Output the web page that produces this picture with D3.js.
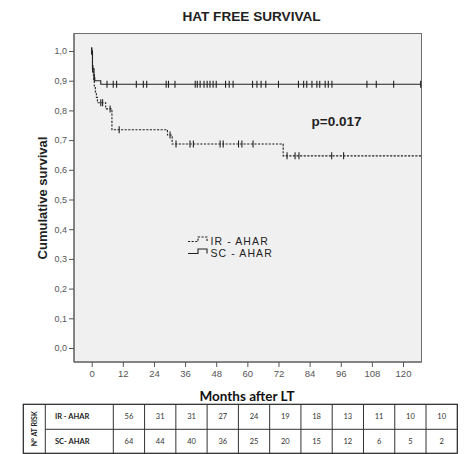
<!DOCTYPE html>
<html>
<head>
<meta charset="utf-8">
<script src="https://cdn.jsdelivr.net/npm/d3@7"></script>
<style>
  body { margin: 0; background: #fff; }
  svg { display: block; }
</style>
</head>
<body>
<div id="content"></div>
<script>
// ---- data ----
const monthTicks = [0, 12, 24, 36, 48, 60, 72, 84, 96, 108, 120];
const survivalTicks = [0, 0.1, 0.2, 0.3, 0.4, 0.5, 0.6, 0.7, 0.8, 0.9, 1.0];
const groupNames = ["IR - AHAR", "SC - AHAR"];
const riskRowNames = ["IR - AHAR", "SC- AHAR"];
const irAtRisk = [56, 31, 31, 27, 24, 19, 18, 13, 11, 10, 10];
const scAtRisk = [64, 44, 40, 36, 25, 20, 15, 12, 6, 5, 2];

// [month, survival] after each drop
const irSteps = [[0, 1], [0.3, 0.94], [0.6, 0.92], [0.8, 0.9], [1.0, 0.88], [1.4, 0.862],
  [1.8, 0.844], [2.2, 0.826], [5.4, 0.805], [7.8, 0.735], [29.2, 0.717], [31.0, 0.687],
  [73.8, 0.647]];
const irCensored = [0, 0.4, 3.5, 4.2, 7.1, 10.6, 30.2, 32.5, 37.9, 39.2, 49.5, 50.7, 56.6,
  57.9, 62.2, 75.3, 78.4, 79.9, 92.5, 97.1];
const scSteps = [[0, 1], [0.3, 0.94], [0.9, 0.91], [1.2, 0.9], [3.5, 0.888]];
const scCensored = [0, 0.4, 1.0, 5.9, 8.3, 9.6, 17.2, 19.9, 21.2, 28.7, 29.6, 32.1, 39.9,
  40.7, 41.8, 43.3, 44.5, 45.6, 46.8, 48.0, 51.6, 53.0, 54.5, 62.0, 63.7, 65.3, 67.1, 72.0,
  79.7, 81.7, 82.9, 84.9, 86.8, 87.9, 90.0, 91.2, 92.6, 106.1, 109.7, 116.4, 126.8];
const followUpEnd = 127;

// ---- layout ----
const width = 470, height = 454;
const svg = d3.select("#content").append("svg")
  .attr("width", width).attr("height", height);

const frame = {left: 74, right: 421.5, top: 33.5, bottom: 362};
const x = d3.scaleLinear().domain([0, 120]).range([91.7, 403]);
const y = d3.scaleLinear().domain([0, 1]).range([348, 51]);
const fmt = d3.formatLocale({decimal: ",", thousands: ".", grouping: [3], currency: ["", ""]}).format(".1f");

// title
svg.append("text")
  .attr("x", 251.5).attr("y", 20.5)
  .attr("text-anchor", "middle")
  .style("font-family", "Liberation Sans, Arial, sans-serif")
  .style("font-weight", "bold").style("font-size", "13.6px")
  .attr("fill", "#222")
  .text("HAT FREE SURVIVAL");

// plot background + frame
svg.append("rect")
  .attr("x", frame.left).attr("y", frame.top)
  .attr("width", frame.right - frame.left).attr("height", frame.bottom - frame.top)
  .attr("fill", "#f0f0f0").attr("stroke", "#6e6e6e").attr("stroke-width", 1);

// y axis
let yAxis = svg.append("g")
  .attr("transform", `translate(${frame.left},0)`)
  .call(d3.axisLeft(y).tickValues(survivalTicks).tickFormat(fmt).tickSize(5).tickPadding(2));
yAxis.select(".domain").remove();
yAxis.append("line").attr("x1", 0).attr("x2", 0)
  .attr("y1", frame.top).attr("y2", frame.bottom).attr("stroke", "#555");
yAxis.selectAll(".tick line").attr("stroke", "#555");
yAxis.selectAll(".tick text")
  .style("font-family", "Liberation Sans, Arial, sans-serif")
  .style("font-size", "9px").attr("fill", "#555");

// x axis
let xAxis = svg.append("g")
  .attr("transform", `translate(0,${frame.bottom})`)
  .call(d3.axisBottom(x).tickValues(monthTicks).tickSize(5).tickPadding(3));
xAxis.select(".domain").remove();
xAxis.append("line").attr("y1", 0).attr("y2", 0)
  .attr("x1", frame.left).attr("x2", frame.right).attr("stroke", "#555");
xAxis.selectAll(".tick line").attr("stroke", "#555");
xAxis.selectAll(".tick text")
  .style("font-family", "Liberation Sans, Arial, sans-serif")
  .style("font-size", "9.5px").attr("fill", "#555");

// axis titles
svg.append("text")
  .attr("transform", "translate(47,198) rotate(-90)")
  .attr("text-anchor", "middle")
  .style("font-family", "Liberation Sans, Arial, sans-serif")
  .style("font-weight", "bold").style("font-size", "13px")
  .attr("fill", "#222")
  .text("Cumulative survival");

svg.append("text")
  .attr("x", 247).attr("y", 401)
  .attr("text-anchor", "middle")
  .style("font-family", "Lato, sans-serif")
  .style("font-weight", "bold").style("font-size", "13.5px")
  .attr("fill", "#111")
  .text("Months after LT");

// ---- survival curves ----
function survivalAt(steps, t) {
  let s = steps[0][1];
  for (const st of steps) if (st[0] <= t) s = st[1];
  return s;
}

const stepLine = d3.line()
  .x(d => x(d[0])).y(d => y(d[1]))
  .curve(d3.curveStepAfter);

const curves = [
  {steps: irSteps, censored: irCensored, dash: "2.2,1.4"},
  {steps: scSteps, censored: scCensored, dash: null}
];

curves.forEach(c => {
  const pts = c.steps.concat([[followUpEnd, c.steps[c.steps.length - 1][1]]]);
  svg.append("path")
    .attr("d", stepLine(pts))
    .attr("fill", "none")
    .attr("stroke", "#222")
    .attr("stroke-width", 1.1)
    .attr("stroke-dasharray", c.dash);

  svg.append("g").selectAll("line")
    .data(c.censored)
    .enter().append("line")
    .attr("x1", d => x(d)).attr("x2", d => x(d))
    .attr("y1", d => y(survivalAt(c.steps, d)) - 3.5)
    .attr("y2", d => y(survivalAt(c.steps, d)) + 3.5)
    .attr("stroke", "#222")
    .attr("stroke-width", 1.1);
});

// p value
svg.append("text")
  .attr("x", 311.5).attr("y", 126)
  .style("font-family", "Liberation Sans, Arial, sans-serif")
  .style("font-weight", "bold").style("font-size", "13.5px")
  .attr("fill", "#222")
  .text("p=0.017");

// legend
const legend = svg.append("g");
[{dash: "2.2,1.4", yb: 241.5}, {dash: null, yb: 253.5}].forEach((l, i) => {
  legend.append("path")
    .attr("d", `M188,${l.yb}H198V${l.yb - 4.5}H207V${l.yb}`)
    .attr("fill", "none").attr("stroke", "#222").attr("stroke-width", 1.1)
    .attr("stroke-dasharray", l.dash);
  legend.append("text")
    .attr("x", 210.5).attr("y", l.yb + 3)
    .style("font-family", "Liberation Sans, Arial, sans-serif")
    .style("font-size", "10.5px")
    .style("letter-spacing", "1.1px")
    .attr("fill", "#222")
    .text(groupNames[i]);
});

// ---- number at risk table ----
const table = {left: 23.3, c1: 45.3, c2: 113.3, right: 457.3, top: 404.3, mid: 429.3, bottom: 453.3};
const col = d3.scaleBand().domain(d3.range(irAtRisk.length)).range([table.c2, table.right]);
const tg = svg.append("g");

tg.append("rect")
  .attr("x", table.left).attr("y", table.top)
  .attr("width", table.right - table.left).attr("height", table.bottom - table.top)
  .attr("fill", "#fff").attr("stroke", "#222").attr("stroke-width", 1.2);
tg.append("line").attr("x1", table.c1).attr("x2", table.right)
  .attr("y1", table.mid).attr("y2", table.mid).attr("stroke", "#333");
const vlines = [table.c1, table.c2].concat(d3.range(1, irAtRisk.length).map(i => col(i)));
tg.selectAll(".vl").data(vlines).enter().append("line")
  .attr("x1", d => d).attr("x2", d => d)
  .attr("y1", table.top).attr("y2", table.bottom)
  .attr("stroke", "#333");

tg.append("text")
  .attr("transform", `translate(${(table.left + table.c1) / 2 + 2.5},${(table.top + table.bottom) / 2}) rotate(-90)`)
  .attr("text-anchor", "middle")
  .style("font-family", "Lato, sans-serif")
  .style("font-weight", "bold").style("font-size", "7px")
  .attr("fill", "#222")
  .text("N° AT RISK");

[irAtRisk, scAtRisk].forEach((row, r) => {
  const cy = r === 0 ? (table.top + table.mid) / 2 : (table.mid + table.bottom) / 2;
  tg.append("text")
    .attr("x", 55).attr("y", cy + 2.5)
    .style("font-family", "Lato, sans-serif")
    .style("font-weight", "bold").style("font-size", "7.5px")
    .attr("fill", "#222")
    .text(riskRowNames[r]);
  tg.selectAll(".v" + r).data(row).enter().append("text")
    .attr("x", (d, i) => col(i) + col.bandwidth() / 2)
    .attr("y", cy + 2.5)
    .attr("text-anchor", "middle")
    .style("font-family", "Lato, sans-serif")
    .style("font-size", "7.5px")
    .attr("fill", "#333")
    .text(d => d);
});
</script>
</body>
</html>
